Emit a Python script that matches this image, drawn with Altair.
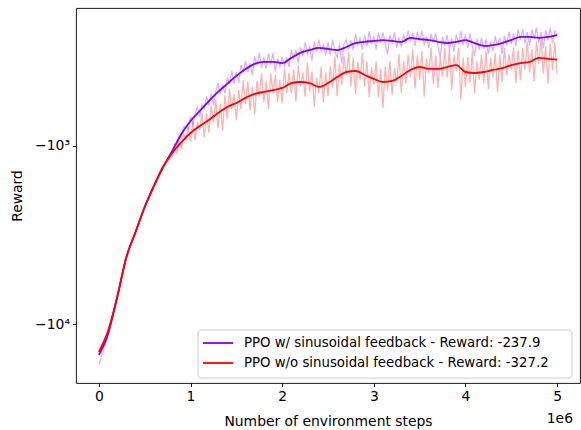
import altair as alt
import pandas as pd

FONT = "DejaVu Sans"
FS = 13.9
LFS = 13.3
PURPLE = "#7f00ff"
RED = "#ff0000"

labels = [
    "PPO w/ sinusoidal feedback - Reward: -237.9",
    "PPO w/o sinusoidal feedback - Reward: -327.2",
]

# smoothed curves, sampled every 0.1e6 steps
smooth_steps = [i * 100000 for i in range(51)]
purple_smooth = [-14940, -11380, -7053, -4204, -3042, -2201, -1678, -1312, -1067, -856,
                 -724, -636, -559, -497, -448, -404, -369, -346, -337, -337,
                 -342, -320, -300, -289, -281, -285, -289, -278, -264, -260,
                 -257, -254, -257, -260, -247, -251, -254, -260, -264, -260,
                 -254, -264, -274, -271, -264, -254, -244, -244, -247, -244, -238]
red_smooth = [-14370, -10950, -7053, -4204, -3042, -2201, -1678, -1312, -1095, -950,
              -845, -772, -714, -653, -604, -573, -537, -510, -497, -485,
              -472, -443, -437, -443, -466, -443, -410, -384, -379, -399,
              -420, -437, -431, -404, -374, -360, -369, -369, -360, -351,
              -384, -389, -384, -374, -365, -351, -342, -337, -320, -324, -327]

# raw (noisy) curves: every 0.1e6 up to 0.7e6, then every 0.025e6
raw_steps = [i * 100000 for i in range(8)] + [800000 + j * 25000 for j in range(169)]
purple_raw = [
    -16900, -11500, -7000, -4230, -3030, -2210, -1670, -1320,
    -1088, -972, -996, -878, -899, -782, -782, -802,
    -681, -751, -660, -605, -687, -586, -616, -526,
    -593, -506, -591, -492, -447, -509, -459, -506,
    -412, -450, -379, -448, -384, -442, -351, -386,
    -332, -385, -344, -401, -315, -351, -301, -363,
    -317, -367, -303, -350, -300, -382, -323, -358,
    -315, -360, -318, -359, -288, -328, -288, -342,
    -279, -315, -262, -301, -275, -333, -259, -297,
    -253, -293, -272, -310, -262, -309, -253, -294,
    -318, -266, -344, -267, -253, -289, -255, -289,
    -235, -271, -249, -287, -239, -275, -227, -268,
    -242, -287, -230, -263, -231, -268, -306, -238,
    -262, -230, -281, -246, -278, -236, -263, -225,
    -259, -231, -274, -228, -259, -224, -272, -243,
    -282, -235, -262, -232, -276, -318, -244, -274,
    -238, -287, -249, -295, -237, -268, -226, -273,
    -236, -282, -233, -274, -312, -250, -288, -247,
    -285, -251, -305, -258, -293, -242, -275, -247,
    -304, -240, -272, -228, -269, -233, -274, -221,
    -254, -222, -266, -229, -273, -221, -250, -216,
    -264, -229, -282, -223, -256, -216, -265, -226,
    -238,
]
red_raw = [
    -14200, -10900, -7080, -4190, -3050, -2190, -1685, -1305,
    -1139, -1006, -1105, -917, -1045, -850, -925, -784,
    -946, -728, -930, -735, -811, -652, -892, -656,
    -843, -594, -739, -548, -797, -577, -818, -517,
    -695, -477, -623, -511, -716, -485, -622, -426,
    -580, -435, -629, -465, -663, -431, -529, -390,
    -567, -435, -619, -390, -509, -400, -565, -428,
    -576, -367, -504, -387, -509, -371, -563, -351,
    -463, -386, -528, -340, -496, -382, -601, -414,
    -503, -359, -569, -386, -523, -357, -470, -314,
    -525, -347, -453, -313, -403, -299, -465, -319,
    -512, -338, -428, -299, -463, -335, -533, -361,
    -454, -335, -532, -368, -612, -358, -486, -333,
    -517, -365, -443, -304, -505, -333, -447, -306,
    -411, -286, -477, -309, -425, -293, -529, -323,
    -391, -280, -450, -310, -472, -316, -409, -282,
    -414, -286, -484, -307, -379, -280, -552, -320,
    -468, -316, -441, -295, -506, -334, -426, -308,
    -445, -294, -478, -320, -411, -301, -500, -305,
    -438, -282, -401, -305, -372, -279, -444, -289,
    -428, -280, -374, -260, -388, -286, -434, -259,
    -346, -250, -393, -275, -447, -267, -375, -261,
    -392,
]

df_ps = pd.DataFrame({"step": smooth_steps, "reward": purple_smooth})
df_rs = pd.DataFrame({"step": smooth_steps, "reward": red_smooth})
df_pr = pd.DataFrame({"step": raw_steps, "reward": purple_raw})
df_rr = pd.DataFrame({"step": raw_steps, "reward": red_raw})

x_enc = alt.X(
    "step:Q",
    scale=alt.Scale(domain=[-250000, 5250000], nice=False, zero=False),
    axis=alt.Axis(
        values=[0, 1000000, 2000000, 3000000, 4000000, 5000000],
        labelExpr="format(datum.value / 1000000, 'd')",
        title="Number of environment steps",
        titleX=252, titleY=38, titleBaseline="middle", titleAlign="center",
        labelPadding=3,
    ),
)
y_enc = alt.Y(
    "reward:Q",
    scale=alt.Scale(type="log", domain=[-21450, -167.8], nice=False),
    axis=alt.Axis(
        values=[-10000, -1000],
        labelExpr="datum.value == -1000 ? '\u221210\u00b3' : '\u221210\u2074'",
        title="Reward",
        titleX=-59, titleY=187.5, titleAngle=-90,
        titleBaseline="middle", titleAlign="center",
        labelPadding=3,
    ),
)

l_pr = alt.Chart(df_pr).mark_line(color=PURPLE, opacity=0.3, strokeWidth=1.3).encode(x=x_enc, y=y_enc)
l_ps = alt.Chart(df_ps).mark_line(color=PURPLE, strokeWidth=1.8, interpolate="monotone").encode(x=x_enc, y=y_enc)
l_rr = alt.Chart(df_rr).mark_line(color=RED, opacity=0.3, strokeWidth=1.3).encode(x=x_enc, y=y_enc)
l_rs = alt.Chart(df_rs).mark_line(color=RED, strokeWidth=1.8, interpolate="monotone").encode(x=x_enc, y=y_enc)

one = pd.DataFrame({"k": [0]})
leg_box = alt.Chart(one).mark_rect(
    fill="white", fillOpacity=0.8, stroke="#cccccc", strokeWidth=1, cornerRadius=3
).encode(x=alt.value(122), x2=alt.value(496), y=alt.value(322), y2=alt.value(370))
leg_l1 = alt.Chart(one).mark_rule(color=PURPLE, strokeWidth=1.8).encode(
    x=alt.value(127), x2=alt.value(157), y=alt.value(335))
leg_l2 = alt.Chart(one).mark_rule(color=RED, strokeWidth=1.8).encode(
    x=alt.value(127), x2=alt.value(157), y=alt.value(355))
leg_t1 = alt.Chart(one).mark_text(align="left", baseline="middle", font=FONT, fontSize=LFS, color="black").encode(
    x=alt.value(168), y=alt.value(335), text=alt.value(labels[0]))
leg_t2 = alt.Chart(one).mark_text(align="left", baseline="middle", font=FONT, fontSize=LFS, color="black").encode(
    x=alt.value(168), y=alt.value(355), text=alt.value(labels[1]))
offset_txt = alt.Chart(one).mark_text(align="right", baseline="middle", font=FONT, fontSize=FS, color="black").encode(
    x=alt.value(497), y=alt.value(411), text=alt.value("1e6"))

chart = alt.layer(
    l_pr, l_ps, l_rr, l_rs, leg_box, leg_l1, leg_l2, leg_t1, leg_t2, offset_txt
).properties(
    width=504, height=375,
    background="white",
    autosize=alt.AutoSizeParams(type="none"),
    padding={"left": 76, "top": 8, "right": 1, "bottom": 47},
).configure_view(
    stroke="black", strokeWidth=0.9
).configure_axis(
    grid=False, domain=False, ticks=True, tickColor="black", tickSize=3.5, tickWidth=0.9,
    labelFont=FONT, labelFontSize=FS, labelColor="black",
    titleFont=FONT, titleFontSize=FS, titleColor="black", titleFontWeight="normal",
)

chart.save("out.html", embed_options={"renderer": "svg", "actions": False})
